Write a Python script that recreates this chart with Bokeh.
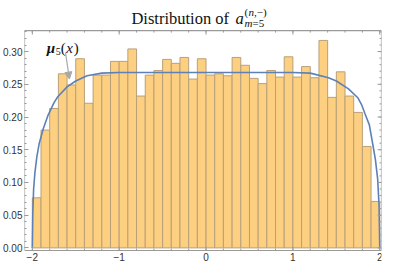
import numpy as np
from bokeh.plotting import figure
from bokeh.models import FixedTicker, Label, Arrow, NormalHead, Range1d, NumeralTickFormatter
from bokeh.core.properties import value
from bokeh.embed import file_html
from bokeh.resources import INLINE

# ---- data ----
bin_edges = np.linspace(-2.0, 2.0, 41)
density = [0.0765, 0.180, 0.213, 0.266, 0.249, 0.289, 0.221, 0.264, 0.264, 0.285,
           0.285, 0.304, 0.232, 0.264, 0.271, 0.288, 0.282, 0.291, 0.258, 0.289,
           0.264, 0.266, 0.263, 0.291, 0.279, 0.259, 0.251, 0.271, 0.261, 0.292,
           0.261, 0.277, 0.260, 0.317, 0.230, 0.269, 0.232, 0.207, 0.155, 0.071]

curve_x = [-2.0, -1.995, -1.985, -1.97, -1.948, -1.92, -1.874, -1.818, -1.75, -1.707,
           -1.6, -1.5, -1.37, -1.2, -1.0, -0.5, 0.0, 0.5, 1.0, 1.2,
           1.41, 1.5, 1.64, 1.75, 1.79, 1.83, 1.88, 1.92, 1.95, 1.976, 1.992, 2.0]
curve_y = [0.0, 0.05, 0.09, 0.115, 0.139, 0.16, 0.182, 0.203, 0.222, 0.231,
           0.246, 0.255, 0.263, 0.267, 0.268, 0.268, 0.268, 0.268, 0.268, 0.267,
           0.260, 0.255, 0.243, 0.229, 0.219, 0.205, 0.188, 0.158, 0.135, 0.105, 0.065, 0.0]

x_major = [-2.0, -1.0, 0.0, 1.0, 2.0]
x_tick_labels = ["−2", "−1", "0", "1", "2"]
y_major = [0.0, 0.05, 0.10, 0.15, 0.20, 0.25, 0.30]

x_minor = [round(v, 2) for v in np.arange(-2.0, 2.01, 0.2)]
y_minor = [round(v, 3) for v in np.arange(0.0, 0.331, 0.01)]

# visual frame box (data coords) and full plotting ranges
X0, X1 = -2.09, 2.02
Y0, Y1 = -0.004, 0.332
YTOP = 0.378     # room above the box for the title
YBOT = -0.0223   # room below the box for the x tick labels

AX = "#9a9a9a"
TICKFONT = "Liberation Sans"

p = figure(width=383, height=262, output_backend="svg", toolbar_location=None,
           title=None, x_range=Range1d(X0, X1), y_range=Range1d(YBOT, YTOP),
           min_border=0, min_border_left=24, min_border_right=2,
           min_border_top=0, min_border_bottom=0)
p.xgrid.visible = False
p.ygrid.visible = False
p.xaxis.visible = False
p.outline_line_color = None
p.background_fill_color = "white"

p.quad(left=bin_edges[:-1], right=bin_edges[1:], bottom=0, top=density,
       fill_color="#fdcf80", line_color="#b9a07a", line_width=1)
p.line(curve_x, curve_y, line_color="#5e81b5", line_width=1.6)

yl = p.yaxis[0]
yl.ticker = FixedTicker(ticks=y_major, minor_ticks=y_minor)
yl.formatter = NumeralTickFormatter(format="0.00")
yl.axis_line_color = None
yl.axis_label = None
yl.major_tick_line_color = AX
yl.minor_tick_line_color = AX
yl.major_tick_in = 4
yl.major_tick_out = 0
yl.minor_tick_in = 2
yl.minor_tick_out = 0
yl.major_label_text_font = TICKFONT
yl.major_label_text_font_size = "10px"
yl.major_label_text_color = "#333333"
yl.major_label_standoff = 2

# frame box edges (left, top, right, bottom)
p.segment(x0=[X0, X0, X1, X0], y0=[Y0, Y1, Y1, Y0], x1=[X0, X1, X1, X1], y1=[Y1, Y1, Y0, Y0],
          line_color=AX, line_width=1.2)
# inward ticks on top, bottom and right edges
for yy, ang in ((Y1, -np.pi / 2), (Y0, np.pi / 2)):
    p.ray(x=x_major, y=yy, length=4, angle=ang, length_units="screen", line_color=AX, line_width=1)
    p.ray(x=x_minor, y=yy, length=2, angle=ang, length_units="screen", line_color=AX, line_width=1)
p.ray(x=X1, y=y_major, length=4, angle=np.pi, length_units="screen", line_color=AX, line_width=1)
p.ray(x=X1, y=y_minor, length=2, angle=np.pi, length_units="screen", line_color=AX, line_width=1)

# x tick labels
p.text(x=x_major, y=Y0, text=x_tick_labels, y_offset=2, text_align="center",
       text_baseline="top", text_font=value(TICKFONT), text_font_size="10px",
       text_color="#333333")

# ---- title ----
SERIF = "Liberation Serif"
tx, ty = -0.859, 0.350
def lab(text, dx, dy, size, style_="normal", x=tx, y=ty, color="#111111"):
    p.add_layout(Label(x=x, y=y, x_offset=dx, y_offset=dy, text=text,
                       text_font=SERIF, text_font_size=size, text_font_style=style_,
                       text_color=color, text_align="left", text_baseline="alphabetic"))

lab("Distribution of ", 0, 0, "16.5px")
lab("a", 104, 0, "16.5px", "italic")
lab("(", 113, 7, "11px")
lab("n", 117, 7, "11px", "italic")
lab(",−)", 122.5, 7, "11px")
lab("m", 113, -4.5, "11px", "italic")
lab("=5", 121, -4.5, "11px")

# ---- mu annotation ----
mx, my = -1.833, 0.305
lab("μ", 0, 0, "15px", "bold italic", x=mx, y=my)
lab("5", 9, -3, "10px", x=mx, y=my)
lab("(", 14, 0, "15px", x=mx, y=my)
lab("x", 19.5, 0, "15px", "italic", x=mx, y=my)
lab(")", 27, 0, "15px", x=mx, y=my)

p.add_layout(Arrow(end=NormalHead(size=7, fill_color="#a8a8a8", line_color="#a8a8a8"),
                   x_start=-1.618, y_start=0.2985, x_end=-1.573, y_end=0.258,
                   line_color="#a8a8a8", line_width=1.2))

open("out.html", "w").write(file_html(p, INLINE))
